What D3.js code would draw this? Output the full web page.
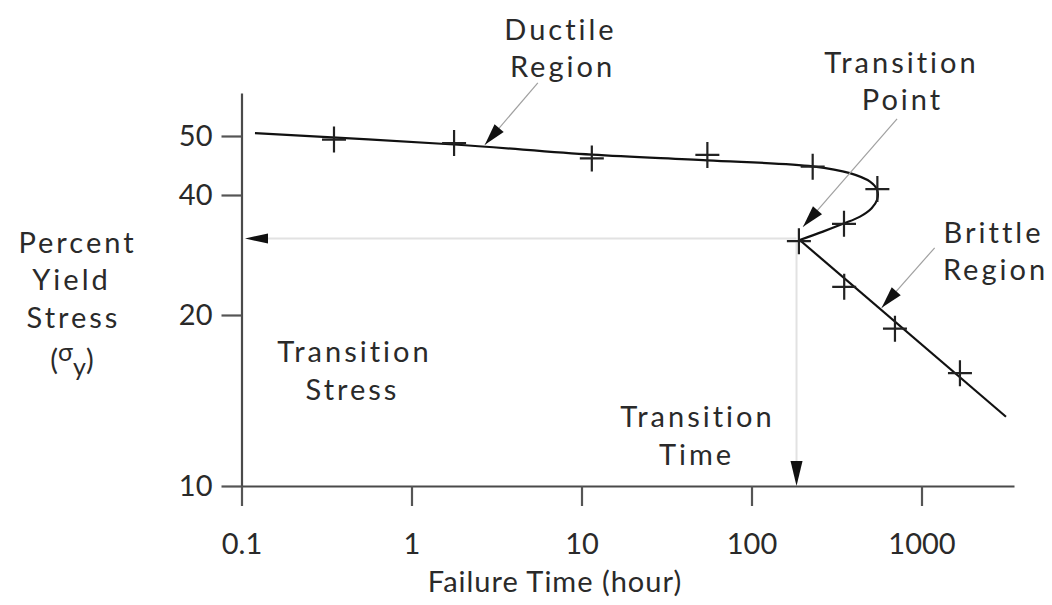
<!DOCTYPE html>
<html><head><meta charset="utf-8">
<script src="https://cdn.jsdelivr.net/npm/d3@7"></script>
<style>
html,body{margin:0;padding:0;background:#fff}
svg{display:block}
text{font-family:Lato,"Open Sans",sans-serif;fill:#2a2a2a}
</style></head>
<body><svg id="c" width="1052" height="605"></svg>
<script>
// ---- data ----
const tickTimes = [0.1, 1, 10, 100, 1000];
const tickTimeLabels = ["0.1", "1", "10", "100", "1000"];
const tickStress = [10, 20, 40, 50];
const tickStressLabels = ["10", "20", "40", "50"];

// measured points (failure time in hours, percent yield stress)
const pointTime   = [0.35, 1.78, 11.5, 55, 229, 550, 350, 190, 351, 698, 1683];
const pointStress = [49.4, 48.8, 46.2, 46.8, 44.8, 41.0, 35.2, 32.3, 24.7, 19.2, 16.6];

// ductile branch of the fitted curve (folds back to the transition point)
const ductileTime   = [0.12, 1.78, 11.5, 55, 229, 379, 498, 548, 548, 509, 435, 345, 263, 192];
const ductileStress = [50.5, 48.56, 46.85, 45.88, 44.85, 43.7, 42.25, 40.85, 39.2, 37.8, 36.4, 35.2, 33.9, 32.5];

// brittle branch (straight line)
const brittleTime   = [192, 3140];
const brittleStress = [32.5, 14.05];

const transitionTime = 184;
const transitionStress = 32.75;

// ---- scales ----
const svg = d3.select("#c");
const x = d3.scaleLog().domain([0.1, 3500]).range([241.5, 1014]);
const y = d3.scaleLinear().domain([10, 20, 40, 50, 57.3]).range([486, 315, 195, 136, 93]);

const FS = 29;

// ---- axes ----
const gx = svg.append("g").attr("transform", `translate(0,${y(10)})`)
  .call(d3.axisBottom(x).tickValues(tickTimes)
    .tickFormat((d, i) => tickTimeLabels[i]).tickSize(20).tickSizeOuter(0).tickPadding(27));
const gy = svg.append("g").attr("transform", `translate(${x(0.1)},0)`)
  .call(d3.axisLeft(y).tickValues(tickStress)
    .tickFormat((d, i) => tickStressLabels[i]).tickSize(20).tickSizeOuter(0).tickPadding(9));
[gx, gy].forEach(g => {
  g.select(".domain").attr("stroke", "#4a4a4a").attr("stroke-width", 2.2);
  g.selectAll(".tick line").attr("stroke", "#555").attr("stroke-width", 2.2);
  g.selectAll(".tick text").style("font-family", "Lato, 'Open Sans', sans-serif")
    .style("font-size", FS + "px").attr("fill", "#2a2a2a");
});

// ---- guide lines for transition ----
const guide = svg.append("g");
guide.append("line")
  .attr("x1", x(transitionTime)).attr("y1", y(transitionStress))
  .attr("x2", x(0.1) + 20).attr("y2", y(transitionStress))
  .attr("stroke", "#e2e2e2").attr("stroke-width", 2);
guide.append("line")
  .attr("x1", x(transitionTime)).attr("y1", y(transitionStress) + 4)
  .attr("x2", x(transitionTime)).attr("y2", y(10) - 20)
  .attr("stroke", "#e2e2e2").attr("stroke-width", 2);

function head(tx, ty, fx, fy, len, hw) {
  const dx = tx - fx, dy = ty - fy, L = Math.hypot(dx, dy);
  const ux = dx / L, uy = dy / L;
  const bx = tx - ux * len, by = ty - uy * len;
  svg.append("path")
    .attr("d", `M${tx},${ty}L${bx - uy * hw},${by + ux * hw}L${bx + uy * hw},${by - ux * hw}Z`)
    .attr("fill", "#111");
}
head(x(0.1) + 3.5, y(transitionStress), x(transitionTime), y(transitionStress), 23, 5);
head(x(transitionTime), y(10), x(transitionTime), y(transitionStress), 25, 6);

// ---- curve ----
svg.append("path")
  .datum(ductileTime.map((t, i) => [t, ductileStress[i]]))
  .attr("d", d3.line().x(d => x(d[0])).y(d => y(d[1])).curve(d3.curveCatmullRom.alpha(0.5)))
  .attr("fill", "none").attr("stroke", "#111").attr("stroke-width", 2.2);
svg.append("path")
  .datum(brittleTime.map((t, i) => [t, brittleStress[i]]))
  .attr("d", d3.line().x(d => x(d[0])).y(d => y(d[1])))
  .attr("fill", "none").attr("stroke", "#111").attr("stroke-width", 2.2);

// ---- plus markers ----
svg.append("g").selectAll("path")
  .data(pointTime.map((t, i) => [t, pointStress[i]]))
  .join("path")
  .attr("d", d => { const cx = x(d[0]), cy = y(d[1]); return `M${cx - 12},${cy}h24M${cx},${cy - 13}v26`; })
  .attr("stroke", "#222").attr("stroke-width", 2.2).attr("fill", "none");

// ---- annotation arrows (tip in data space, tail offset) ----
const annotations = [
  { t: 2.7, s: 48.5, dx: 53, dy: -62 },
  { t: 201, s: 34.7, dx: 94, dy: -108 },
  { t: 583, s: 21.2, dx: 53, dy: -60 }
];
annotations.forEach(a => {
  const tx = x(a.t), ty = y(a.s), fx = tx + a.dx, fy = ty + a.dy;
  svg.append("line").attr("x1", fx).attr("y1", fy).attr("x2", tx).attr("y2", ty)
    .attr("stroke", "#a0a0a0").attr("stroke-width", 1.2);
  head(tx, ty, fx, fy, 22, 6);
});

// ---- text labels ----
const labels = [
  ["Ductile", 559, 40], ["Region", 561, 77],
  ["Transition", 900, 73], ["Point", 901, 110],
  ["Brittle", 992, 243], ["Region", 994, 280],
  ["Transition", 353, 362], ["Stress", 351, 400],
  ["Transition", 696, 427], ["Time", 695, 465],
  ["Percent", 76, 253], ["Yield", 70, 290], ["Stress", 72, 328]
];
svg.append("g").selectAll("text").data(labels).join("text")
  .attr("x", d => d[1] + 1.5).attr("y", d => d[2]).attr("text-anchor", "middle")
  .style("font-size", FS + "px").style("letter-spacing", "3px")
  .text(d => d[0]);

svg.append("text").attr("x", 555).attr("y", 592).attr("text-anchor", "middle")
  .style("font-size", FS + "px").style("letter-spacing", "1px")
  .text("Failure Time (hour)");

const sig = svg.append("text").attr("x", 72).attr("y", 370).attr("text-anchor", "middle")
  .style("font-size", FS + "px");
sig.append("tspan").text("(");
sig.append("tspan").attr("dy", -9).style("font-size", "25px").text("σ");
sig.append("tspan").attr("dy", 15).style("font-size", "25px").text("y");
sig.append("tspan").attr("dy", -6).text(")");
</script>
</body></html>
